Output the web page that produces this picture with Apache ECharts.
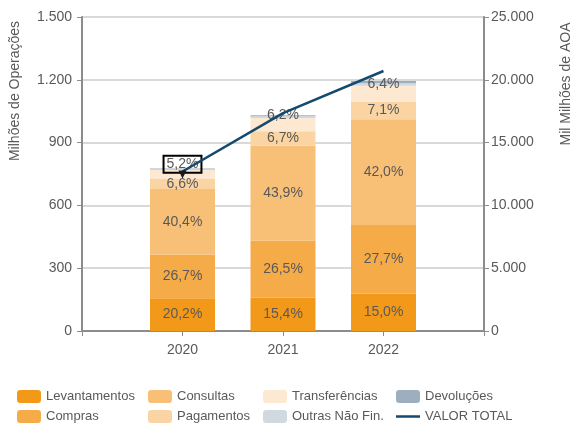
<!DOCTYPE html>
<html>
<head>
<meta charset="utf-8">
<script src="https://cdn.jsdelivr.net/npm/echarts@6/dist/echarts.min.js"></script>
<style>
html,body{margin:0;padding:0;background:#fff;}
#c{width:574px;height:423px;}
</style>
</head>
<body>
<div id="c"></div>
<script>
// Categories (years)
var years = ['2020', '2021', '2022'];

// Millions of operations per type
var levantamentos   = [157, 159, 179];
var compras         = [207, 273, 331];
var consultas       = [314, 453, 501];
var pagamentos      = [51, 69, 85];
var transferencias  = [40, 64, 76];
var outrasNaoFin    = [4, 8, 12];
var devolucoes      = [3, 5, 10];

// Share labels shown on the bars
var lblLevantamentos  = ['20,2%', '15,4%', '15,0%'];
var lblCompras        = ['26,7%', '26,5%', '27,7%'];
var lblConsultas      = ['40,4%', '43,9%', '42,0%'];
var lblPagamentos     = ['6,6%', '6,7%', '7,1%'];
var lblTransferencias = ['5,2%', '6,2%', '6,4%'];

// Total value (Mil Milhões de AOA)
var valorTotal = [12700, 17350, 20700];

// Axis ticks
var leftTicks  = [0, 300, 600, 900, 1200, 1500];
var rightTicks = [0, 5000, 10000, 15000, 20000, 25000];

var FONT = '"Liberation Sans", Arial, sans-serif';
var TXT = '#595959';

// padded category list: empty slots at both ends so the years sit at 1/4, 2/4, 3/4
var xCats = [''].concat(years, ['']);

function fmtThousands(v) {
  return String(v).replace(/\B(?=(\d{3})+(?!\d))/g, '.');
}

function pad(arr) { return ['-'].concat(arr, ['-']); }

function barSeries(name, vals, labels, color, extra) {
  var data = vals.map(function (v, i) {
    var d = { value: v };
    if (extra && extra[i]) { d.label = extra[i]; }
    return d;
  });
  return {
    name: name,
    type: 'bar',
    stack: 'total',
    barWidth: 65,
    itemStyle: { color: color },
    label: {
      show: !!labels,
      position: 'inside',
      fontFamily: FONT,
      fontSize: 14,
      color: TXT,
      formatter: function (p) { return labels ? labels[p.dataIndex - 1] : ''; }
    },
    data: pad(data)
  };
}

var transfExtra = [
  { offset: [0, -10], borderColor: '#000', borderWidth: 2, padding: [2, 3, 1, 3] },
  { offset: [0, -9] },
  { offset: [0, -9] }
];

var lineIcon = 'path://M0,0 L0.01,0 L0,0.01 Z M24,13 L23.99,13 L24,12.99 Z M0,5.2 L24,5.2 L24,7.8 L0,7.8 Z';

var legendBase = { orient: 'vertical', top: 390, itemWidth: 24, itemHeight: 13, itemGap: 7, padding: 0,
  textStyle: { fontSize: 13, color: TXT, fontFamily: FONT } };
function lg(left, data) { return Object.assign({}, legendBase, { left: left, data: data }); }

var chart = echarts.init(document.getElementById('c'));
chart.setOption({
  animation: false,
  backgroundColor: '#fff',
  textStyle: { fontFamily: FONT },
  grid: { left: 82, right: 90, top: 17, bottom: 92, containLabel: false },
  xAxis: {
    type: 'category',
    data: xCats,
    boundaryGap: false,
    splitLine: { show: false },
    axisLine: { show: true, lineStyle: { color: '#8C8C8C', width: 2 } },
    axisTick: { show: true, length: 5, alignWithLabel: true, lineStyle: { color: '#8C8C8C', width: 1 } },
    axisLabel: { margin: 12, fontSize: 14, color: TXT, fontFamily: FONT, interval: 0 }
  },
  yAxis: [
    {
      type: 'value', min: leftTicks[0], max: leftTicks[leftTicks.length - 1], interval: 300,
      position: 'left',
      axisLine: { show: true, lineStyle: { color: '#8C8C8C', width: 2 } },
      axisTick: { show: true, length: 5, lineStyle: { color: '#8C8C8C' } },
      splitLine: { show: true, lineStyle: { color: '#D9D9D9', width: 2 } },
      axisLabel: { margin: 10, fontSize: 14, color: TXT, fontFamily: FONT, formatter: fmtThousands }
    },
    {
      type: 'value', min: rightTicks[0], max: rightTicks[rightTicks.length - 1], interval: 5000,
      position: 'right',
      axisLine: { show: true, lineStyle: { color: '#8C8C8C', width: 2 } },
      axisTick: { show: true, length: 5, lineStyle: { color: '#8C8C8C' } },
      splitLine: { show: false },
      axisLabel: { margin: 7, fontSize: 14, color: TXT, fontFamily: FONT, formatter: fmtThousands }
    }
  ],
  legend: [
    lg(17, ['Levantamentos', 'Compras']),
    lg(148, ['Consultas', 'Pagamentos']),
    lg(263, ['Transferências', 'Outras Não Fin.']),
    lg(396, ['Devoluções', { name: 'VALOR TOTAL', icon: lineIcon }])
  ],
  graphic: [
    { type: 'text', x: 15, y: 91, rotation: Math.PI / 2,
      style: { text: 'Milhões de Operações', font: '14px ' + FONT, fill: TXT, align: 'center', verticalAlign: 'middle' } },
    { type: 'text', x: 566, y: 84, rotation: Math.PI / 2,
      style: { text: 'Mil Milhões de AOA', font: '14px ' + FONT, fill: TXT, align: 'center', verticalAlign: 'middle' } }
  ],
  series: [
    barSeries('Levantamentos', levantamentos, lblLevantamentos, '#F3991A'),
    barSeries('Compras', compras, lblCompras, '#F5AB48'),
    barSeries('Consultas', consultas, lblConsultas, '#F8BF77'),
    barSeries('Pagamentos', pagamentos, lblPagamentos, '#FAD5A3'),
    barSeries('Transferências', transferencias, lblTransferencias, '#FDE8D1', transfExtra),
    barSeries('Outras Não Fin.', outrasNaoFin, null, '#D0D9E0'),
    barSeries('Devoluções', devolucoes, null, '#9DAFBE'),
    {
      name: 'VALOR TOTAL',
      type: 'line',
      yAxisIndex: 1,
      z: 10,
      symbol: 'none',
      showSymbol: true,
      color: '#134A6E',
      lineStyle: { color: '#134A6E', width: 2.5 },
      data: pad(valorTotal.map(function (v, i) {
        var d = { value: v };
        if (i === 0) {
          d.symbol = 'triangle';
          d.symbolRotate = 180;
          d.symbolSize = [8, 8];
          d.symbolOffset = [0, 3];
          d.itemStyle = { color: '#1a1a1a' };
        }
        return d;
      }))
    }
  ]
});
</script>
</body>
</html>
